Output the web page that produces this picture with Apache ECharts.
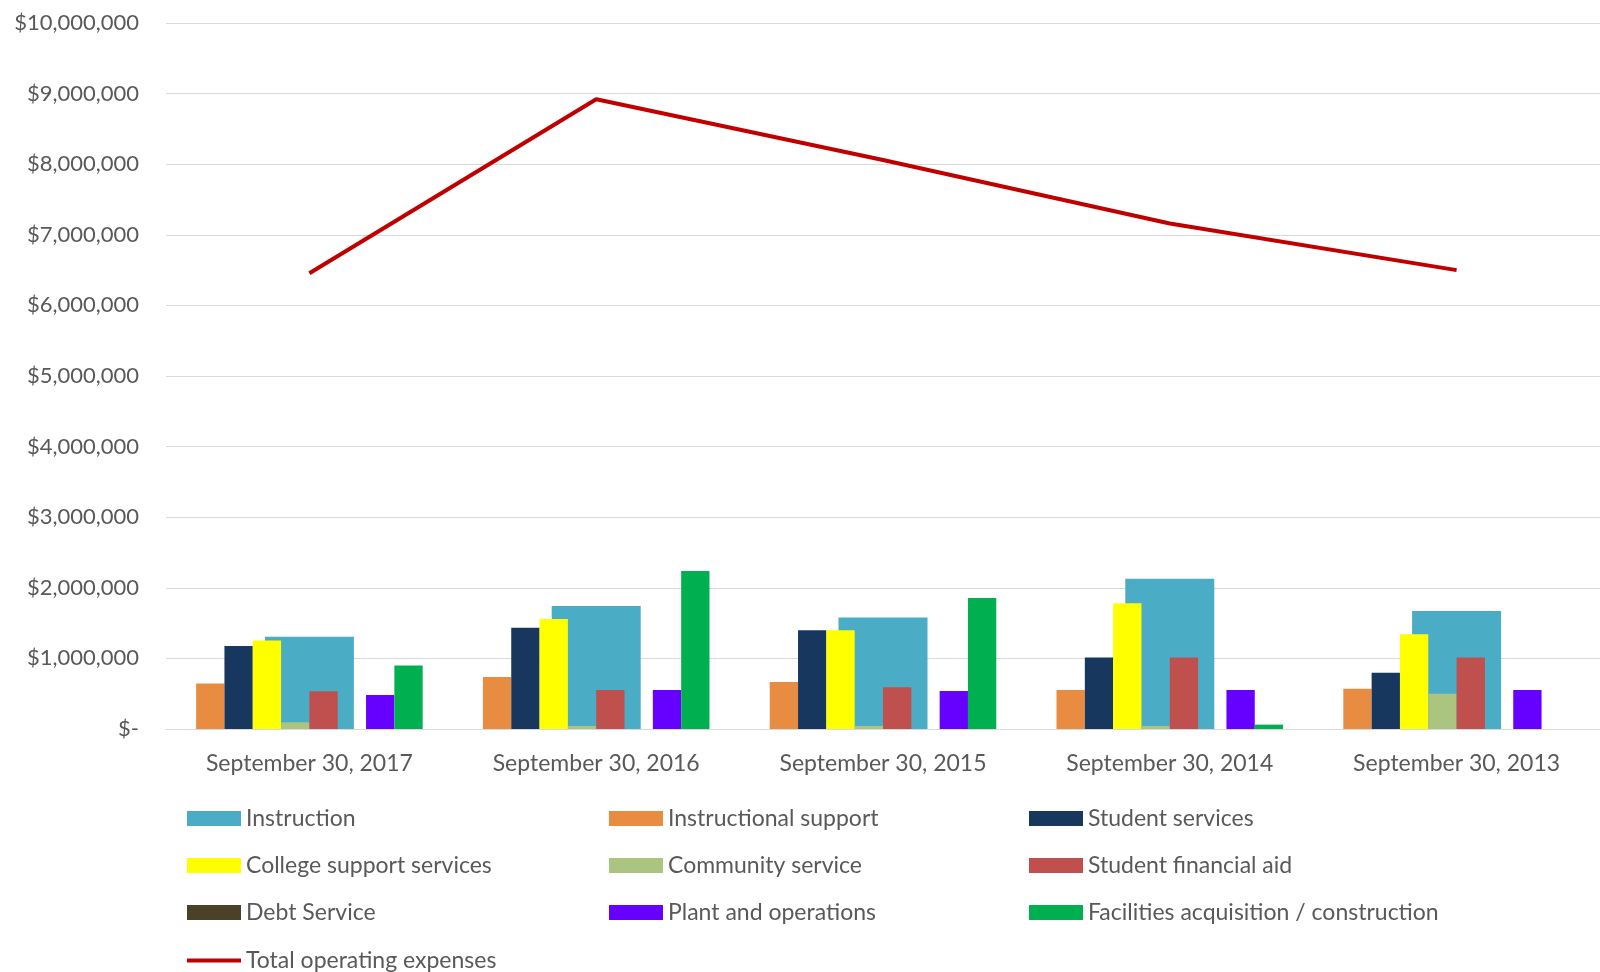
<!DOCTYPE html>
<html>
<head>
<meta charset="utf-8">
<title>Operating expenses</title>
<script src="https://cdn.jsdelivr.net/npm/echarts@6/dist/echarts.min.js"></script>
<style>
  html, body { margin: 0; padding: 0; background: #fff; }
  #expense-chart { width: 1600px; height: 972px; }
</style>
</head>
<body>
<div id="expense-chart"></div>
<script>
// categories (fiscal years)
const years = ['September 30, 2017', 'September 30, 2016', 'September 30, 2015', 'September 30, 2014', 'September 30, 2013'];

// series values
const instruction = [1305000, 1743000, 1581000, 2129000, 1671000];
const instructionalSupport = [645000, 738000, 667000, 552000, 571000];
const studentServices = [1176000, 1433000, 1400000, 1014000, 795000];
const collegeSupport = [1252000, 1557000, 1400000, 1781000, 1343000];
const communityService = [95000, 43000, 43000, 43000, 500000];
const financialAid = [533000, 552000, 590000, 1014000, 1014000];
const debtService = [0, 0, 0, 0, 0];
const plantOps = [481000, 552000, 538000, 552000, 552000];
const facilities = [900000, 2238000, 1857000, 62000, 0];
const totalExpenses = [6456000, 8920000, 8060000, 7160000, 6500000];

// y axis ticks
const yMax = 10000000;
const yStep = 1000000;

const FONT = 'Lato';
const GREY = '#595959';

function money(v) {
  if (v === 0) return '$-';
  return '$' + v.toLocaleString('en-US');
}

function narrowBar(name, data, color) {
  return {
    name: name,
    type: 'bar',
    xAxisIndex: 0,
    barGap: 0,
    barCategoryGap: '21%',
    z: 3,
    itemStyle: { color: color },
    data: data
  };
}

const chart = echarts.init(document.getElementById('expense-chart'));

const legendText = { fontFamily: FONT, fontSize: 23, color: GREY };
const legendBase = {
  orient: 'vertical',
  itemWidth: 54,
  itemHeight: 15,
  itemGap: 24,
  icon: 'rect',
  textStyle: legendText,
  selectedMode: false
};

chart.setOption({
  animation: false,
  backgroundColor: '#fff',
  grid: { left: 166, right: 0, top: 23, bottom: 243, containLabel: false },
  legend: [
    Object.assign({}, legendBase, {
      left: 182, top: 802,
      data: ['Instruction', 'College support services', 'Debt Service']
    }),
    Object.assign({}, legendBase, {
      left: 182, top: 944,
      data: [{ name: 'Total operating expenses', icon: 'path://M0,0 L54,0 L54,4 L0,4 Z' }]
    }),
    Object.assign({}, legendBase, {
      left: 604, top: 802,
      data: ['Instructional support', 'Community service', 'Plant and operations']
    }),
    Object.assign({}, legendBase, {
      left: 1024, top: 802,
      data: ['Student services', 'Student financial aid', 'Facilities acquisition / construction']
    })
  ],
  xAxis: [
    {
      type: 'category',
      data: years,
      axisTick: { show: false },
      axisLine: { lineStyle: { color: '#d9d9d9', width: 1 } },
      axisLabel: { fontFamily: FONT, fontSize: 23, color: GREY, margin: 23 }
    },
    {
      type: 'category',
      data: years,
      show: false
    }
  ],
  yAxis: {
    type: 'value',
    min: 0,
    max: yMax,
    interval: yStep,
    axisLine: { show: false },
    axisTick: { show: false },
    splitLine: { lineStyle: { color: '#d9d9d9', width: 1 } },
    axisLabel: {
      fontFamily: FONT, fontSize: 22, color: GREY, margin: 27,
      formatter: money
    }
  },
  series: [
    {
      name: 'Instruction',
      type: 'bar',
      xAxisIndex: 1,
      barWidth: 89,
      z: 2,
      itemStyle: { color: '#4BACC6' },
      data: instruction
    },
    narrowBar('Instructional support', instructionalSupport, '#E88C42'),
    narrowBar('Student services', studentServices, '#17375E'),
    narrowBar('College support services', collegeSupport, '#FFFF00'),
    narrowBar('Community service', communityService, '#ABC47F'),
    narrowBar('Student financial aid', financialAid, '#C0504D'),
    narrowBar('Debt Service', debtService, '#4A4128'),
    narrowBar('Plant and operations', plantOps, '#6600FF'),
    narrowBar('Facilities acquisition / construction', facilities, '#00B050'),
    {
      name: 'Total operating expenses',
      type: 'line',
      xAxisIndex: 0,
      z: 5,
      symbol: 'none',
      itemStyle: { color: '#C00000' },
      lineStyle: { color: '#C00000', width: 4 },
      data: totalExpenses
    }
  ]
});
</script>
</body>
</html>
